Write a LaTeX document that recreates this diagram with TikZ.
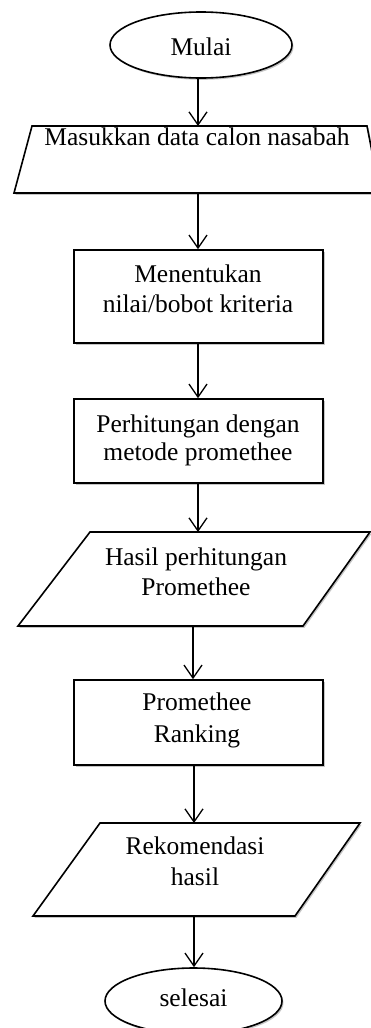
\documentclass[tikz,border=0pt]{standalone}
\usepackage{fontspec}
\setmainfont{Liberation Serif}
\usetikzlibrary{arrows.meta,shapes.geometric,shadows}
\begin{document}
\begin{tikzpicture}[x=1pt,y=-1pt,
  shapeline/.style={draw=black, line width=1.6pt, fill=white,
    drop shadow={shadow xshift=1.5pt, shadow yshift=-1.8pt, fill=black!45, opacity=0.5}},
  terminal/.style={shapeline, ellipse, inner sep=0pt, minimum height=66pt},
  procbox/.style={shapeline, rectangle, inner sep=0pt, minimum width=249pt},
  lbl/.style={font=\fontsize{25.5}{30}\selectfont, inner sep=0pt, anchor=base},
  flow/.style={draw=black, line width=1.3pt, -{Straight Barb[length=13pt,width=18pt,line width=1.3pt]}}
]
\useasboundingbox (0,0) rectangle (371,1028);
\clip (0,0) rectangle (371,1028);
\fill[white] (0,0) rectangle (371,1028);

% start
\node[terminal, minimum width=182pt] (start) at (201,45) {};
\node[lbl] (tstart) at (201,55) {Mulai};

% input data
\draw[shapeline] (32,126) -- (367,126) -- (380,193) -- (14,193) -- cycle;
\coordinate (p1t) at (198,126);
\coordinate (p1b) at (198,193);
\node[lbl] (tp1) at (197,145) {Masukkan data calon nasabah};

% box 1
\node[procbox, minimum height=93pt] (b1) at (198.5,296.5) {};
\node[lbl] (tb1a) at (198,282) {Menentukan};
\node[lbl] (tb1b) at (198,312) {nilai/bobot kriteria};

% box 2
\node[procbox, minimum height=84pt] (b2) at (198.5,441) {};
\node[lbl] (tb2a) at (198,432) {Perhitungan dengan};
\node[lbl] (tb2b) at (198,460) {metode promethee};

% parallelogram 2
\draw[shapeline] (90,532) -- (370,532) -- (303,626) -- (18,626) -- cycle;
\coordinate (p2t) at (198,532);
\coordinate (p2b) at (193,626);
\node[lbl] (tp2a) at (196,565) {Hasil perhitungan};
\node[lbl] (tp2b) at (196,595) {Promethee};

% box 3
\node[procbox, minimum height=85pt] (b3) at (198.5,722.5) {};
\node[lbl] (tb3a) at (197,710) {Promethee};
\node[lbl] (tb3b) at (197,742) {Ranking};

% parallelogram 3
\draw[shapeline] (100,823) -- (360,823) -- (295,916) -- (33,916) -- cycle;
\coordinate (p3t) at (194,823);
\coordinate (p3b) at (194,916);
\node[lbl] (tp3a) at (195,854) {Rekomendasi};
\node[lbl] (tp3b) at (195,885) {hasil};

% end
\node[terminal, minimum width=177pt] (stop) at (193.5,1001) {};
\node[lbl] (tstop) at (193.5,1006) {selesai};

% connectors
\draw[flow] (start.south -| p1t) -- (p1t);
\draw[flow] (p1b) -- (b1.north -| p1b);
\draw[flow] (b1.south -| p1b) -- (b2.north -| p1b);
\draw[flow] (b2.south -| p2t) -- (p2t);
\draw[flow] (p2b) -- (b3.north -| p2b);
\draw[flow] (b3.south -| p3t) -- (p3t);
\draw[flow] (p3b) -- (stop.north -| p3b);
\end{tikzpicture}
\end{document}
